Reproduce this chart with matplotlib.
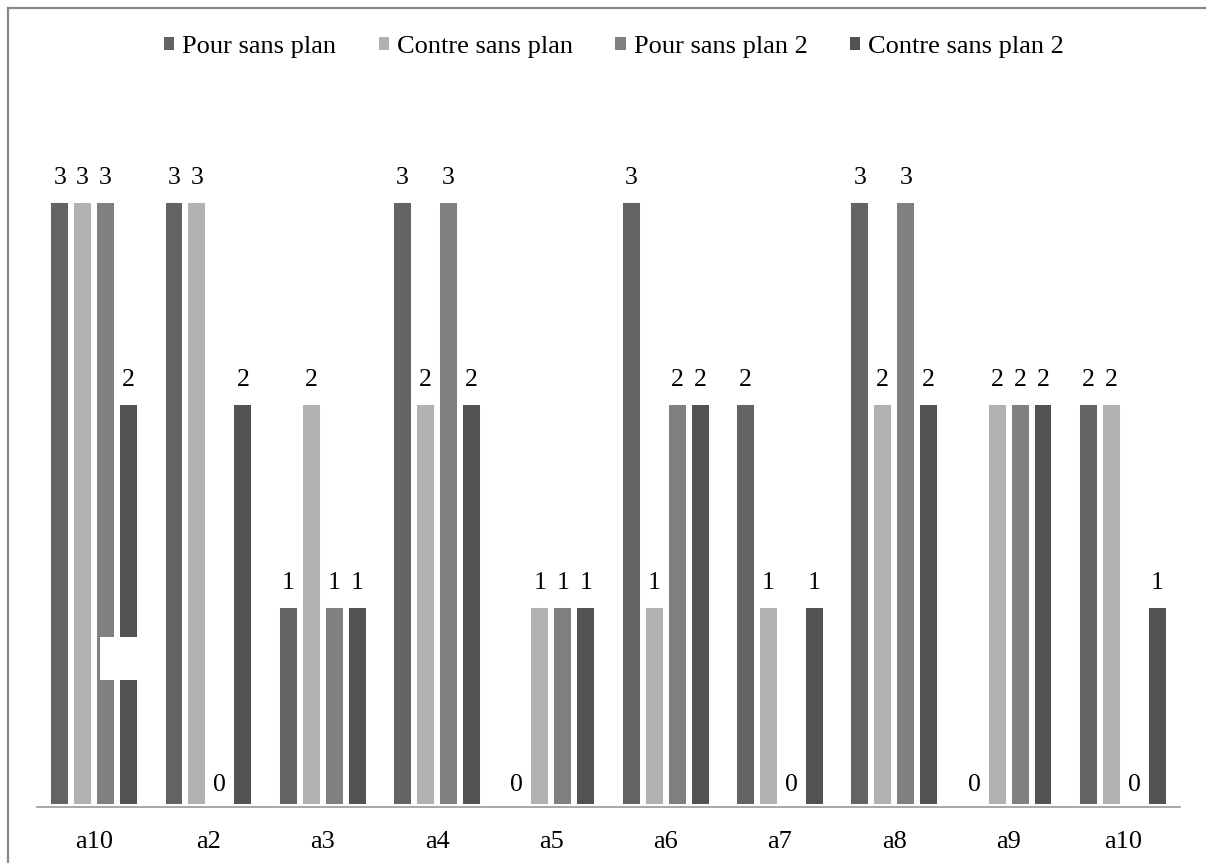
import matplotlib
matplotlib.use("Agg")
import matplotlib.pyplot as plt
import numpy as np
from matplotlib.patches import Patch, Rectangle
from matplotlib.lines import Line2D

categories = ["a10", "a2", "a3", "a4", "a5", "a6", "a7", "a8", "a9", "a10"]
series_names = ["Pour sans plan", "Contre sans plan", "Pour sans plan 2", "Contre sans plan 2"]
pour = [3, 3, 1, 3, 0, 3, 2, 3, 0, 2]
contre = [3, 3, 2, 2, 1, 1, 1, 2, 2, 2]
pour2 = [3, 0, 1, 3, 1, 2, 0, 3, 2, 0]
contre2 = [2, 2, 1, 2, 1, 2, 1, 2, 2, 1]
colors = ["#636363", "#b2b2b2", "#808080", "#525252"]

plt.rcParams["font.family"] = ["Liberation Serif", "DejaVu Serif"]

W, H, DPI = 1206, 863, 100
fig = plt.figure(figsize=(W / DPI, H / DPI), dpi=DPI)
ax = fig.add_axes([37 / W, 1 - 807 / H, (1180 - 37) / W, (807 - 99) / H])

x = np.arange(len(categories))
width = 0.201
series = [pour, contre, pour2, contre2]
for i, (vals, col) in enumerate(zip(series, colors)):
    pos = x + (i - 1.5) * width
    # soft shadow behind each bar
    ax.bar(pos, vals, width=width * 1.14, color="#d6d6d6", edgecolor="none", zorder=1)
    ax.bar(pos, vals, width=width, color=col, edgecolor="white",
           linewidth=4.3, zorder=2)
    for p, v in zip(pos, vals):
        ax.annotate(str(v), (p, v), xytext=(0, 8), textcoords="offset points",
                    ha="center", va="bottom", fontsize=18.5, color="black", zorder=4)

# white block over part of the first group
ax.add_patch(Rectangle((0.051, 0.629), 0.394, 0.213, facecolor="white",
                       edgecolor="none", zorder=3))

ax.set_xlim(-0.5, len(categories) - 0.5)
ax.set_ylim(0, 3.5)
ax.set_xticks(x)
ax.set_xticklabels(categories, fontsize=19)
ax.tick_params(axis="x", length=0, pad=17.5)
ax.set_yticks([])
for s in ["top", "left", "right"]:
    ax.spines[s].set_visible(False)
ax.spines["bottom"].set_color("#9a9a9a")
ax.spines["bottom"].set_linewidth(1.2)
ax.spines["bottom"].set_zorder(5)

handles = [Patch(facecolor=c, edgecolor="none") for c in colors]
fig.legend(handles, series_names, loc="center", bbox_to_anchor=(0.5 + 11 / W, 1 - 47 / H),
           ncol=4, frameon=False, fontsize=19, handlelength=0.4, handleheight=0.4,
           handletextpad=0.3, columnspacing=1.6)

# chart frame (top and left edges)
fig.add_artist(Line2D([7.5 / W, 1.0], [1 - 8.5 / H, 1 - 8.5 / H],
                      transform=fig.transFigure, color="#888888", linewidth=1.6))
fig.add_artist(Line2D([7.5 / W, 7.5 / W], [0, 1 - 8.5 / H],
                      transform=fig.transFigure, color="#888888", linewidth=1.6))

fig.savefig("out.png", dpi=DPI)
